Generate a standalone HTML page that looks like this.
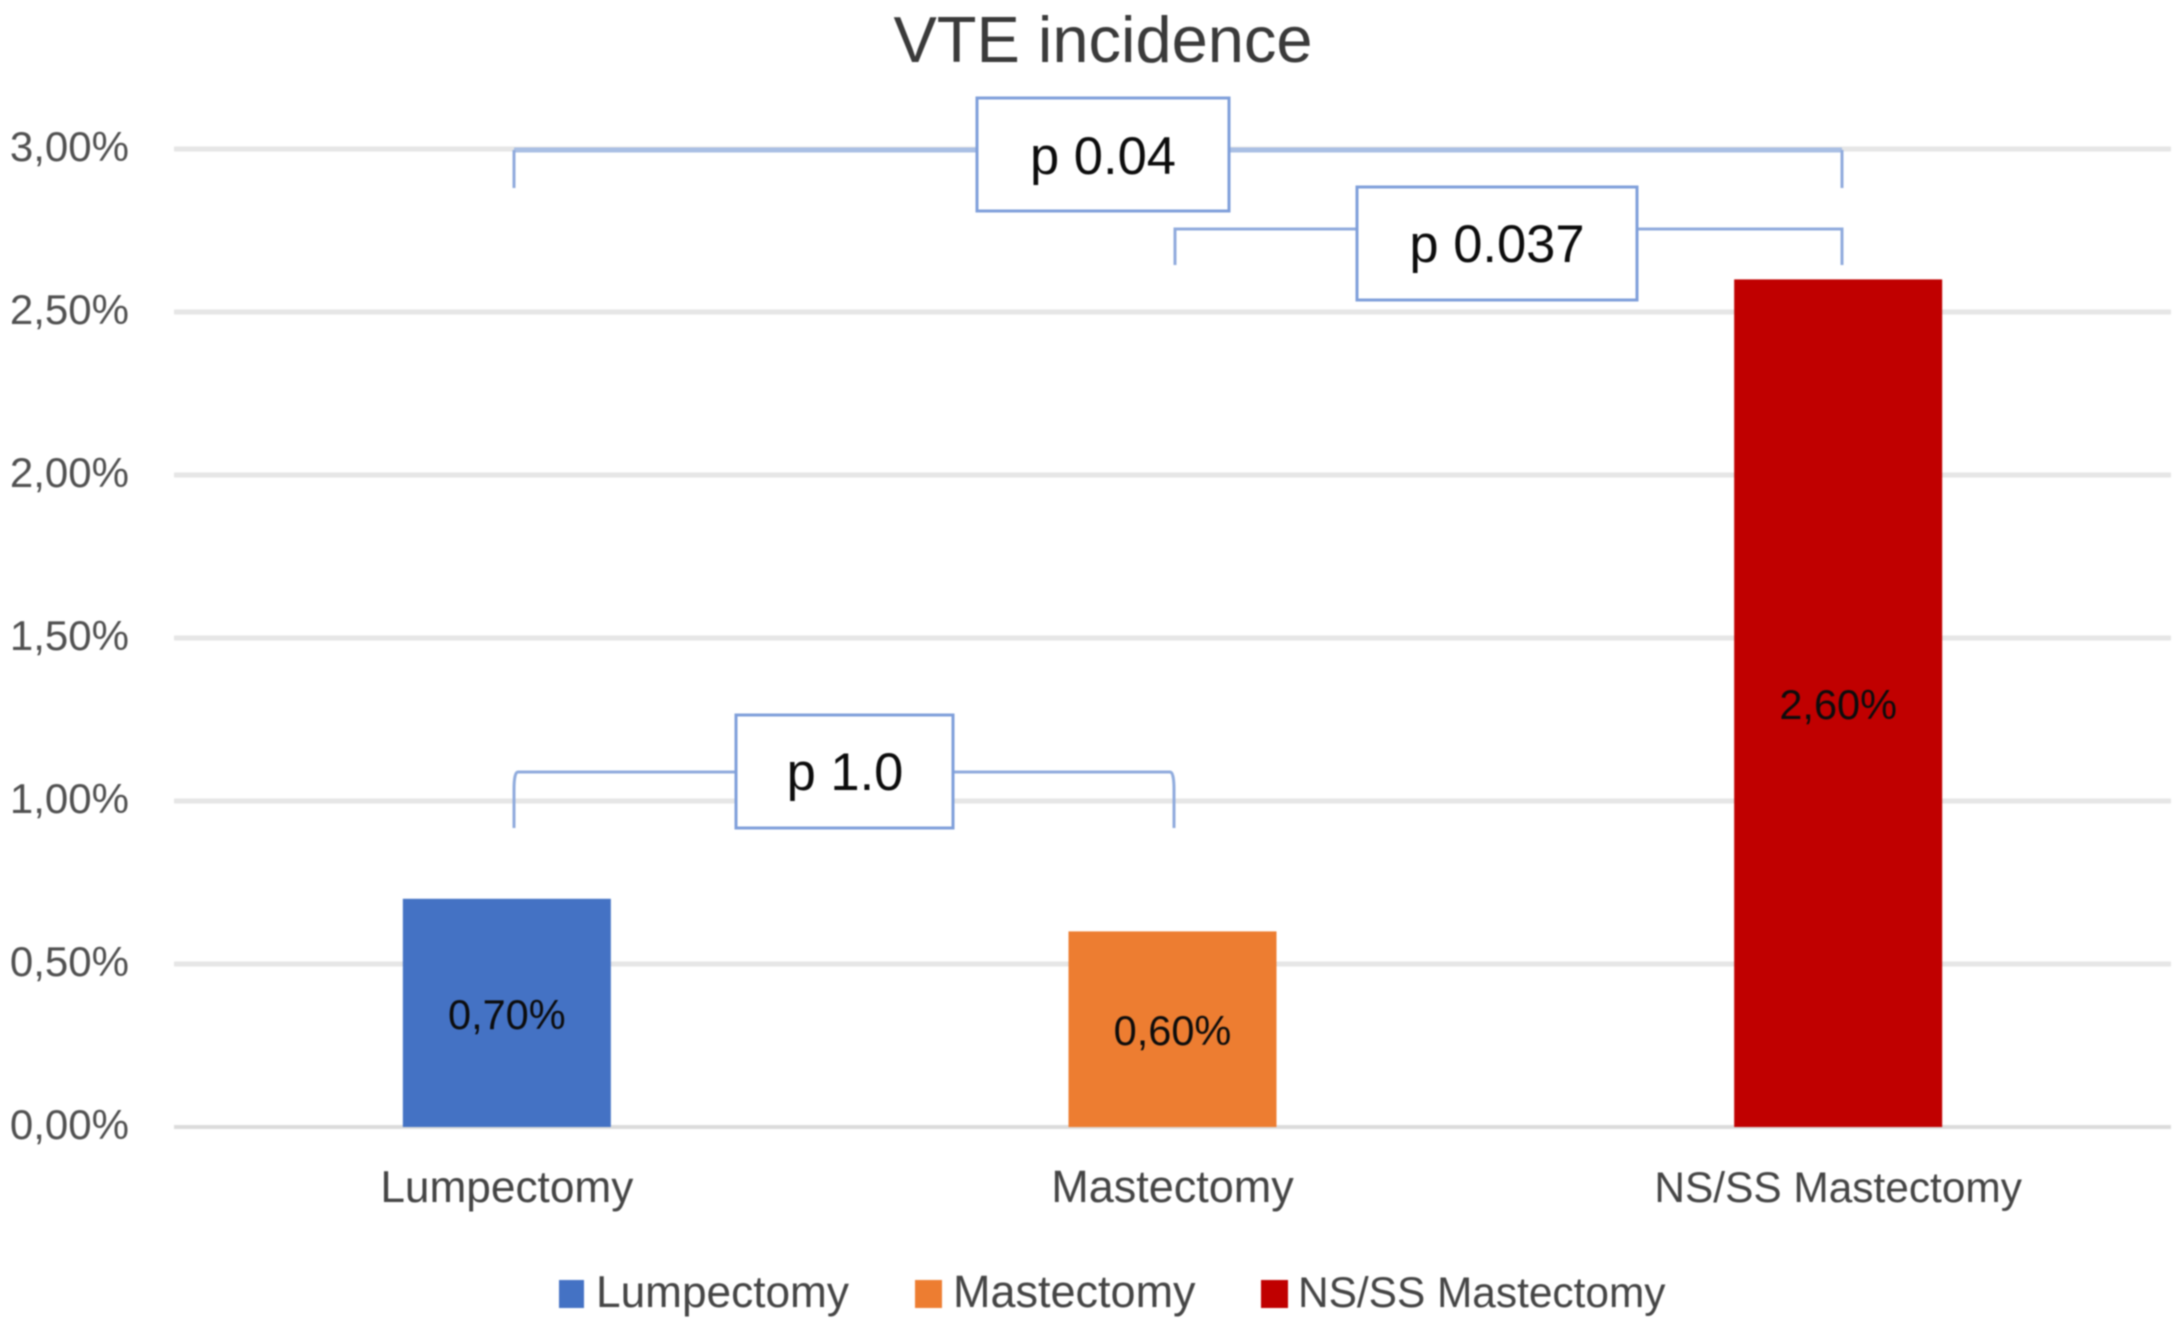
<!DOCTYPE html>
<html lang="en">
<head>
<meta charset="utf-8">
<title>VTE incidence</title>
<style>
html,body{margin:0;padding:0;background:#fff;}
svg{display:block;filter:blur(0.9px);}
text{font-family:"Liberation Sans",sans-serif;}
.title{font-size:65px;fill:#3a3a3a;text-anchor:middle;}
.tick{font-size:42px;fill:#505050;text-anchor:end;}
.cat{fill:#454545;text-anchor:middle;}
.leg{fill:#454545;}
.f0{font-size:44.2px;}
.f1{font-size:45px;}
.f2{font-size:42.4px;}
.val{font-size:41.5px;fill:#0c0c0c;text-anchor:middle;}
.pval{font-size:52.5px;fill:#0c0c0c;text-anchor:middle;}
.grid{stroke:#e6e6e6;stroke-width:5;}
.base{stroke:#dcdcdc;stroke-width:4;}
.s0{fill:#4472c4;}
.s1{fill:#ed7d31;}
.s2{fill:#c00000;}
.brk{fill:none;stroke:#8fabdd;stroke-width:3;}
.brk-thick{fill:none;stroke:#a9bfe4;stroke-width:5;}
.box{fill:#fff;stroke:#7f9fda;stroke-width:3;}
</style>
</head>
<body>
<svg id="chart" width="2184" height="1329" viewBox="0 0 2184 1329" xmlns="http://www.w3.org/2000/svg">
  <rect x="0" y="0" width="2184" height="1329" fill="#ffffff"/>
  <text class="title" x="1103" y="62">VTE incidence</text>
  <g id="grid"></g>
  <g id="ticks"></g>
  <g id="bars"></g>
  <g id="cats"></g>
  <g id="vals"></g>

  <g>
    <path class="brk-thick" d="M514 150 H977 M1229 150 H1842"/>
    <path class="brk" d="M514 188 V150 M1842 150 V188"/>
    <rect class="box" x="977" y="98" width="252" height="113"/>
    <text class="pval" x="1103" y="174">p 0.04</text>
  </g>
  <g>
    <path class="brk" d="M1175 265 V229 H1357 M1637 229 H1842 V265"/>
    <rect class="box" x="1357" y="187" width="280" height="113"/>
    <text class="pval" x="1497" y="262">p 0.037</text>
  </g>
  <g>
    <path class="brk" d="M514 828 V790 Q514 772 518 772 H736 M953 772 H1170 Q1174 772 1174 790 V828"/>
    <rect class="box" x="736" y="715" width="217" height="113"/>
    <text class="pval" x="845" y="790">p 1.0</text>
  </g>

  <g>
    <g>
      <rect class="s0" x="559" y="1280" width="25" height="28"/>
      <text class="leg f0" x="596" y="1307">Lumpectomy</text>
    </g>
    <g>
      <rect class="s1" x="915" y="1280" width="27" height="28"/>
      <text class="leg f1" x="953" y="1307">Mastectomy</text>
    </g>
    <g>
      <rect class="s2" x="1261" y="1280" width="27" height="28"/>
      <text class="leg f2" x="1298" y="1307">NS/SS Mastectomy</text>
    </g>
  </g>
</svg>
<script>
const categories = ['Lumpectomy', 'Mastectomy', 'NS/SS Mastectomy'];
const incidence = [0.7, 0.6, 2.6];
const yTickValues = [0, 0.5, 1, 1.5, 2, 2.5, 3];
const yTickLabels = ['0,00%', '0,50%', '1,00%', '1,50%', '2,00%', '2,50%', '3,00%'];

const NS = 'http://www.w3.org/2000/svg';
const plotLeft = 174, plotRight = 2171, plotBottom = 1127, plotTop = 149, yMax = 3, barWidth = 208;
function yScale(v) { return plotBottom - (v / yMax) * (plotBottom - plotTop); }
function xScale(i) { return plotLeft + (i + 0.5) * (plotRight - plotLeft) / categories.length; }
function slug(s) { return s.toLowerCase().replace(/[^a-z0-9]+/g, '-'); }

const gridG = document.getElementById('grid');
const ticksG = document.getElementById('ticks');
const barsG = document.getElementById('bars');
const catsG = document.getElementById('cats');
const valsG = document.getElementById('vals');

yTickValues.forEach(function (v, i) {
  const line = document.createElementNS(NS, 'line');
  line.setAttribute('x1', plotLeft);
  line.setAttribute('x2', plotRight);
  line.setAttribute('y1', yScale(v));
  line.setAttribute('y2', yScale(v));
  line.setAttribute('class', v === 0 ? 'base' : 'grid');
  
  
  gridG.appendChild(line);

  const t = document.createElementNS(NS, 'text');
  t.setAttribute('class', 'tick');
  t.setAttribute('x', 129);
  t.setAttribute('y', yScale(v) + 12);
  
  
  t.textContent = yTickLabels[i];
  ticksG.appendChild(t);
});

categories.forEach(function (c, i) {
  const v = incidence[i];
  const r = document.createElementNS(NS, 'rect');
  r.setAttribute('class', 's' + i);
  r.setAttribute('x', xScale(i) - barWidth / 2);
  r.setAttribute('y', yScale(v));
  r.setAttribute('width', barWidth);
  r.setAttribute('height', plotBottom - yScale(v));
  
  
  barsG.appendChild(r);

  const label = document.createElementNS(NS, 'text');
  label.setAttribute('class', 'cat f' + i);
  label.setAttribute('x', xScale(i));
  label.setAttribute('y', 1202);
  
  
  label.textContent = c;
  catsG.appendChild(label);

  const val = document.createElementNS(NS, 'text');
  val.setAttribute('class', 'val');
  val.setAttribute('x', xScale(i));
  val.setAttribute('y', yScale(v / 2) + 16);
  
  
  val.textContent = v.toFixed(2).replace('.', ',') + '%';
  valsG.appendChild(val);
});
</script>
</body>
</html>
